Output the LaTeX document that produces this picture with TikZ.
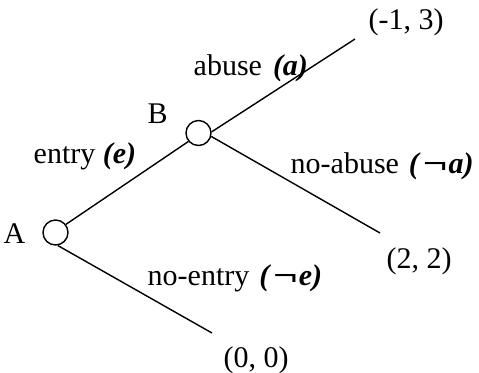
\documentclass[tikz,border=0pt]{standalone}
\usepackage{fontspec}
\setmainfont{Liberation Serif}
\newcommand{\bneg}{\scalebox{1.45}[1]{\textbf{\char"AC}}}
\newcommand{\bi}[1]{\textbf{\textit{#1}}}
\begin{document}
\begin{tikzpicture}[x=0.5pt,y=-0.5pt,
  line width=0.7pt,
  decision/.style={circle,draw,minimum size=12.5pt,inner sep=0pt},
  lbl/.style={anchor=base west,inner sep=0pt,font=\fontsize{15}{17}\selectfont}]
\useasboundingbox (0,0) rectangle (479,372);
\node[decision] (A) at (55.5,232.5) {};
\node[decision] (B) at (198.5,133) {};
\coordinate (T) at (355,39);
\coordinate (M) at (380,233);
\coordinate (Z) at (212,333);
\draw (A.38) -- (B.220);
\draw (B.5) -- (T);
\draw (B.-15) -- (M);
\draw (A.-80) -- (Z);
\node[lbl] (lA) at (3,243) {A};
\node[lbl] (lB) at (147,123) {B};
\node[lbl] (le) at (33,163) {entry \bi{(e)}};
\node[lbl] (la) at (193,75) {abuse\hspace{5.5pt}\bi{(a)}};
\node[lbl] (lna) at (290,173) {no-abuse\hspace{5pt}\bi{(}\hspace{1pt}\bneg\hspace{0.5pt}\bi{a)}};
\node[lbl] (lne) at (147,285) {no-entry\hspace{5pt}\bi{(}\hspace{1pt}\bneg\hspace{0.5pt}\bi{e)}};
\node[lbl] (pT) at (368,29) {(-1, 3)};
\node[lbl] (pM) at (386,268) {(2, 2)};
\node[lbl] (pZ) at (223,367) {(0, 0)};
\end{tikzpicture}
\end{document}
